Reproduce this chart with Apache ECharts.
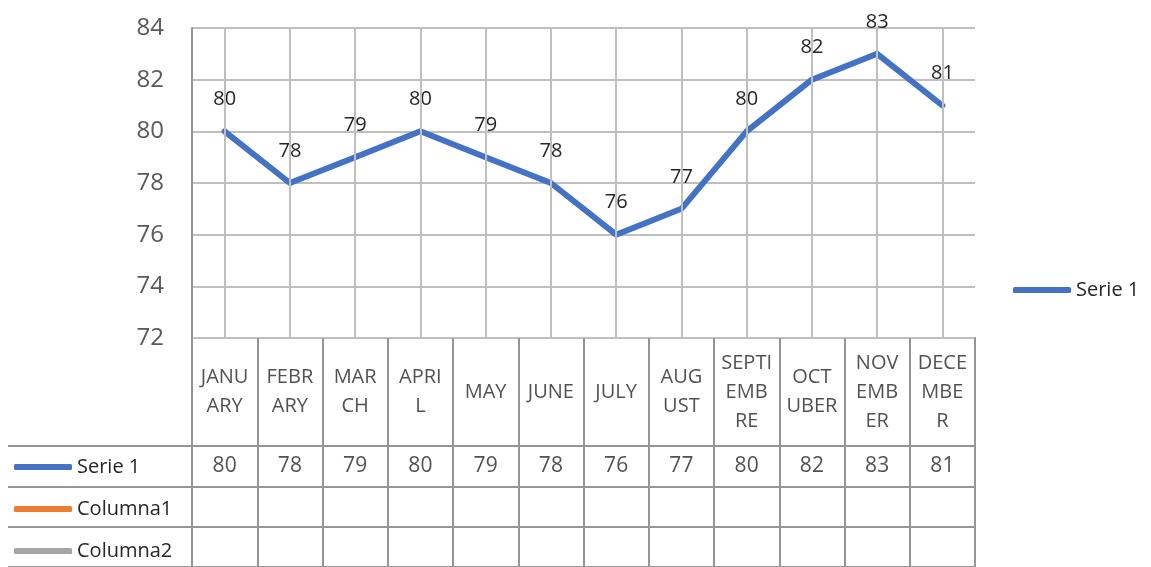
<!DOCTYPE html>
<html>
<head>
<meta charset="utf-8">
<script src="https://cdn.jsdelivr.net/npm/echarts@6/dist/echarts.min.js"></script>
<style>
  html, body { margin: 0; padding: 0; background: #fff; }
  #main { width: 1151px; height: 567px; }
</style>
</head>
<body>
<div id="main"></div>
<script>
// datos
let months = ['JANUARY', 'FEBRARY', 'MARCH', 'APRIL', 'MAY', 'JUNE', 'JULY', 'AUGUST', 'SEPTIEMBRE', 'OCTUBER', 'NOVEMBER', 'DECEMBER'];
let monthLabels = ['JANU\nARY', 'FEBR\nARY', 'MAR\nCH', 'APRI\nL', 'MAY', 'JUNE', 'JULY', 'AUG\nUST', 'SEPTI\nEMB\nRE', 'OCT\nUBER', 'NOV\nEMB\nER', 'DECE\nMBE\nR'];
let serie1 = [80, 78, 79, 80, 79, 78, 76, 77, 80, 82, 83, 81];
let columna1 = [];
let columna2 = [];
let rowNames = ['Serie 1', 'Columna1', 'Columna2'];

let font = 'Open Sans';
let gridColor = '#BFBFBF';
let tableColor = '#959595';
let textColor = '#262626';

let mychart = echarts.init(document.getElementById('main'));

let legendText = { fontFamily: font, fontSize: 20, color: textColor, lineHeight: 22 };

let option = {
    animation: false,
    textStyle: { fontFamily: font },
    legend: [{
            data: ['Serie 1'],
            left: 1013,
            top: 279,
            padding: 0,
            icon: 'roundRect',
            itemWidth: 58,
            itemHeight: 6,
            itemGap: 0,
            selectedMode: false,
            textStyle: legendText
        },
        {
            data: rowNames,
            orient: 'vertical',
            left: 14,
            top: 456,
            padding: 0,
            icon: 'roundRect',
            itemWidth: 58,
            itemHeight: 6,
            itemGap: 20,
            selectedMode: false,
            textStyle: legendText
        }
    ],
    grid: [
        { left: 192, top: 28, width: 783, height: 310 },
        { left: 192, top: 338, width: 783, height: 108, show: true, borderColor: tableColor, borderWidth: 2 },
        { left: 192, top: 446, width: 783, height: 126, show: true, borderColor: tableColor, borderWidth: 2 }
    ],
    xAxis: [{
            gridIndex: 0,
            type: 'category',
            data: months,
            boundaryGap: true,
            axisLine: { show: false },
            axisTick: { show: false },
            axisLabel: { show: false },
            splitLine: { show: false }
        },
        {
            gridIndex: 1,
            type: 'category',
            data: months,
            axisLine: { show: false },
            axisTick: { show: false },
            axisLabel: { show: false, interval: 0 },
            splitLine: { show: true, interval: 0, lineStyle: { color: tableColor, width: 2 } }
        },
        {
            gridIndex: 2,
            type: 'category',
            data: months,
            axisLine: { show: false },
            axisTick: { show: false },
            axisLabel: { show: false, interval: 0 },
            splitLine: { show: true, interval: 0, lineStyle: { color: tableColor, width: 2 } }
        }
    ],
    yAxis: [{
            gridIndex: 0,
            type: 'value',
            min: 72,
            max: 84,
            interval: 2,
            axisLine: { show: true, lineStyle: { color: tableColor, width: 2 } },
            axisTick: { show: false },
            axisLabel: { fontFamily: font, fontSize: 24, color: '#595959', margin: 28 },
            splitLine: { show: true, lineStyle: { color: gridColor, width: 2 } }
        },
        {
            gridIndex: 1,
            type: 'value',
            min: 0,
            max: 1,
            show: false
        },
        {
            gridIndex: 2,
            type: 'category',
            data: rowNames,
            inverse: true,
            axisLine: { show: false },
            axisTick: { show: true, interval: 0, length: 184, lineStyle: { color: tableColor, width: 2 } },
            axisLabel: { show: false, interval: 0 },
            splitLine: { show: true, interval: 0, lineStyle: { color: tableColor, width: 2 } }
        },
        {
            gridIndex: 2,
            type: 'category',
            data: rowNames,
            inverse: true,
            offset: 184,
            axisLine: { show: true, lineStyle: { color: tableColor, width: 2 } },
            axisTick: { show: false },
            axisLabel: { show: false },
            splitLine: { show: false }
        }
    ],
    series: [{
            name: 'gridV',
            type: 'line',
            xAxisIndex: 0,
            yAxisIndex: 0,
            data: [],
            z: 1,
            silent: true,
            markLine: {
                symbol: 'none',
                silent: true,
                label: { show: false },
                lineStyle: { color: gridColor, width: 2, type: 'solid' },
                data: months.map(function (m) { return { xAxis: m }; })
            }
        },
        {
            name: 'Serie 1',
            type: 'line',
            xAxisIndex: 0,
            yAxisIndex: 0,
            data: serie1,
            z: 3,
            symbol: 'circle',
            symbolSize: 0,
            showSymbol: true,
            color: '#4472C4',
            lineStyle: { width: 6, color: '#4472C4', cap: 'round', join: 'round' },
            label: {
                show: true,
                position: 'top',
                distance: 22,
                fontFamily: font,
                fontSize: 20,
                color: textColor
            }
        },
        {
            name: 'Columna1',
            type: 'line',
            xAxisIndex: 0,
            yAxisIndex: 0,
            data: columna1,
            color: '#ED7D31',
            symbol: 'none'
        },
        {
            name: 'Columna2',
            type: 'line',
            xAxisIndex: 0,
            yAxisIndex: 0,
            data: columna2,
            color: '#A5A5A5',
            symbol: 'none'
        },
        {
            name: 'cabecera',
            type: 'scatter',
            xAxisIndex: 1,
            yAxisIndex: 1,
            symbolSize: 0,
            silent: true,
            data: months.map(function (m, i) { return [m, 0.5]; }),
            label: {
                show: true,
                position: 'inside',
                fontFamily: font,
                fontSize: 20,
                lineHeight: 29,
                color: textColor,
                formatter: function (p) { return monthLabels[p.dataIndex]; }
            }
        },
        {
            name: 'valores',
            type: 'scatter',
            xAxisIndex: 2,
            yAxisIndex: 2,
            symbolSize: 0,
            silent: true,
            data: serie1.map(function (v, i) { return [months[i], 'Serie 1', v]; }),
            encode: { x: 0, y: 1 },
            label: {
                show: true,
                position: 'inside',
                fontFamily: font,
                fontSize: 21,
                color: textColor,
                formatter: function (p) { return p.value[2]; }
            }
        }
    ]
};
mychart.setOption(option);
</script>
</body>
</html>
